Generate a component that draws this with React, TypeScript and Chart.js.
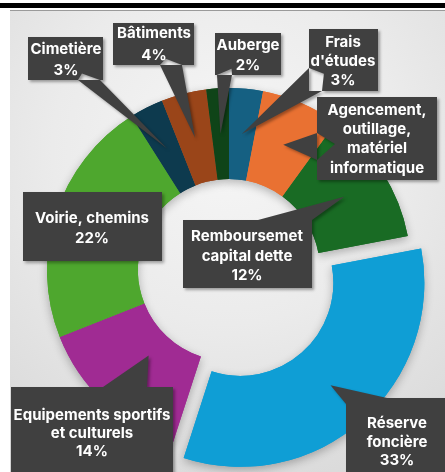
import React, { useEffect, useRef } from 'react';
import { Chart, registerables } from 'chart.js';

Chart.register(...registerables);

// ---- data ----
const categories = [
  "Frais d'études",
  'Agencement, outillage, matériel informatique',
  'Remboursemet capital dette',
  'Réserve foncière',
  'Equipements sportifs et culturels',
  'Voirie, chemins',
  'Cimetière',
  'Bâtiments',
  'Auberge',
];
const values = [3, 7, 12, 33, 14, 22, 3, 4, 2];
const nameLines = [
  ['Frais', "d'études"],
  ['Agencement,', 'outillage,', 'matériel', 'informatique'],
  ['Remboursemet', 'capital dette'],
  ['Réserve', 'foncière'],
  ['Equipements sportifs', 'et culturels'],
  ['Voirie, chemins'],
  ['Cimetière'],
  ['Bâtiments'],
  ['Auberge'],
];
const showPercent = [true, false, true, true, true, true, true, true, true];
const explode = [0, 0, 0, 68, 0, 0, 0, 0, 0];
const colors = [
  '#156082',
  '#E97132',
  '#196B24',
  '#0F9ED5',
  '#A02B93',
  '#4EA72E',
  '#0D3A4E',
  '#9A4519',
  '#0F4418',
];

// ---- callout layout (annotation boxes) ----
type Layout = {
  box: [number, number, number, number];
  cx: number;
  lineY: number[];
  base: [number, number][] | null;
  tip: number;
};
const calloutLayout: Layout[] = [
  { box: [309, 29, 69, 62], cx: 343, lineY: [42, 61, 80], base: [[309, 68], [322, 91]], tip: 0.5 },
  { box: [317, 97, 120, 83], cx: 377, lineY: [110, 129, 148, 168], base: [[317, 133], [317, 160]], tip: 0.5 },
  { box: [183, 220, 129, 68], cx: 247, lineY: [236, 256, 275], base: [[258, 220], [312, 220]], tip: 0.5 },
  { box: [346, 398, 110, 90], cx: 397, lineY: [423, 442, 460], base: [[346, 404], [387, 398]], tip: 0.5 },
  { box: [11, 387, 162, 95], cx: 92, lineY: [415, 433, 451], base: [[103, 387], [147, 387]], tip: 0.29 },
  { box: [23, 192, 139, 69], cx: 92, lineY: [218, 238], base: null, tip: 0.5 },
  { box: [28, 37, 75, 43], cx: 66, lineY: [49, 70], base: [[78, 80], [100, 80]], tip: 0.5 },
  { box: [113, 23, 81, 42], cx: 154, lineY: [33, 55], base: [[160, 65], [182, 65]], tip: 0.5 },
  { box: [215, 33, 66, 42], cx: 248, lineY: [45, 65], base: [[217, 75], [232, 75]], tip: 0.5 },
];

const shadowPlugin = {
  id: 'ringShadow',
  beforeDatasetsDraw(chart: any) {
    const ctx = chart.ctx;
    const meta = chart.getDatasetMeta(0);
    ctx.save();
    ctx.shadowColor = 'rgba(0,0,0,0.28)';
    ctx.shadowBlur = 10;
    ctx.shadowOffsetX = 0;
    ctx.shadowOffsetY = 3;
    meta.data.forEach((arc: any) => arc.draw(ctx));
    ctx.restore();
  },
};

const calloutPlugin = {
  id: 'callouts',
  afterDatasetsDraw(chart: any) {
    const ctx = chart.ctx;
    const meta = chart.getDatasetMeta(0);
    const total = values.reduce((a, b) => a + b, 0);
    meta.data.forEach((arc: any, i: number) => {
      const lay = calloutLayout[i];
      const p = arc.getProps(['x', 'y', 'startAngle', 'endAngle', 'innerRadius', 'outerRadius'], true);
      const mid = (p.startAngle + p.endAngle) / 2;
      const off = (arc.options.offset || 0) / 4;
      const r = p.innerRadius + (p.outerRadius - p.innerRadius) * lay.tip + off;
      const tx = p.x + Math.cos(mid) * r;
      const ty = p.y + Math.sin(mid) * r;
      const [bx, by, bw, bh] = lay.box;

      ctx.save();
      ctx.shadowColor = 'rgba(0,0,0,0.35)';
      ctx.shadowBlur = 3;
      ctx.shadowOffsetX = 2;
      ctx.shadowOffsetY = 2;
      ctx.fillStyle = '#404040';
      ctx.beginPath();
      ctx.rect(bx, by, bw, bh);
      if (lay.base) {
        const mx = (lay.base[0][0] + lay.base[1][0]) / 2;
        const my = (lay.base[0][1] + lay.base[1][1]) / 2;
        ctx.moveTo(lay.base[0][0], lay.base[0][1]);
        ctx.lineTo(tx, ty);
        ctx.lineTo(lay.base[1][0], lay.base[1][1]);
        ctx.lineTo(mx + (bx + bw / 2 - mx) * 0.3, my + (by + bh / 2 - my) * 0.3);
        ctx.closePath();
      }
      ctx.fill('nonzero');
      ctx.restore();

      const lines = [...nameLines[i]];
      if (showPercent[i]) lines.push(Math.round((values[i] / total) * 100) + '%');
      ctx.save();
      ctx.fillStyle = '#ffffff';
      ctx.font = '700 15px Inter';
      ctx.textAlign = 'center';
      ctx.textBaseline = 'middle';
      lines.forEach((t, k) => ctx.fillText(t, lay.cx, lay.lineY[k]));
      ctx.restore();
    });
  },
};

export default function App() {
  const ref = useRef<HTMLCanvasElement | null>(null);
  useEffect(() => {
    if (!ref.current) return;
    const chart = new Chart(ref.current, {
      type: 'doughnut',
      data: {
        labels: categories,
        datasets: [
          {
            data: values,
            backgroundColor: colors,
            borderWidth: 0,
            offset: explode,
          },
        ],
      },
      options: {
        responsive: false,
        animation: false,
        devicePixelRatio: 1,
        radius: 182,
        cutout: '50%',
        rotation: 0,
        layout: { padding: { left: 13, right: 0, top: 68, bottom: 0 } },
        plugins: { legend: { display: false }, tooltip: { enabled: false } },
      },
      plugins: [shadowPlugin, calloutPlugin],
    } as any);
    return () => chart.destroy();
  }, []);

  return (
    <div style={{ position: 'fixed', left: 0, top: 0, width: 445, height: 472, background: '#ffffff', overflow: 'hidden' }}>
      <div style={{ position: 'absolute', left: 0, top: 3, width: 445, height: 5, background: '#000000' }} />
      <div style={{ position: 'absolute', left: 10, top: 10, width: 435, height: 1, background: '#9a9a9a' }} />
      <div
        style={{
          position: 'absolute',
          left: 10,
          top: 11,
          width: 435,
          height: 461,
          background: 'radial-gradient(circle at 50% 30%, #f6f6f6 0%, #ebebeb 45%, #d6d6d6 100%)',
        }}
      />
      <canvas ref={ref} width={445} height={472} style={{ position: 'absolute', left: 0, top: 0 }} />
    </div>
  );
}
